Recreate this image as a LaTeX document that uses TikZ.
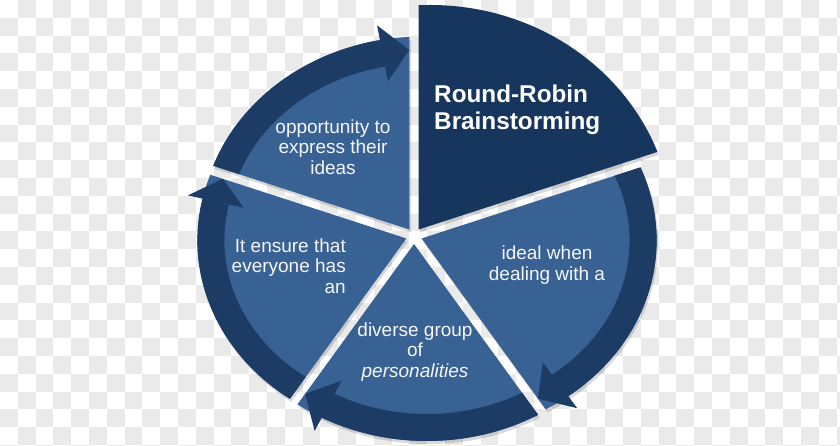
\documentclass[tikz,border=0pt]{standalone}
\usepackage{fontspec}
\setmainfont{Liberation Sans}
\usetikzlibrary{calc}
\definecolor{slicefill}{RGB}{56,97,148}
\definecolor{bandfill}{RGB}{28,59,101}
\definecolor{rrfill}{RGB}{23,54,94}
\definecolor{checkgray}{RGB}{234,234,234}
\definecolor{txtwhite}{RGB}{246,246,246}
\tikzset{
  txt/.style={text=txtwhite, inner sep=0pt, font=\fontsize{19}{20.5}\selectfont},
  rrtxt/.style={text=white, inner sep=0pt, font=\bfseries\fontsize{24.3}{27}\selectfont},
  shadowfill/.style={fill=black, opacity=0.15}
}
% #1 bisector, #2 lower edge, #3 upper edge, #4 tip t, #5 head base t, #6 tail t
\newcommand{\lightslice}[6]{%
  \begin{scope}[shift={(414,210)}, shift={(#1:8)}]
    \begin{scope}[shift={(1.5,-3)}]
      \clip (0,0) -- (#2:600) -- (#1:600) -- (#3:600) -- cycle;
      \fill[shadowfill] (13,-2) ellipse [x radius=222, y radius=195];
    \end{scope}
    \clip (0,0) -- (#2:600) -- (#1:600) -- (#3:600) -- cycle;
    \fill[slicefill] (13,-2) ellipse [x radius=222, y radius=195];
    \fill[bandfill] ($(13,-2)+(#5:222 and 195)$)
        arc[start angle=#5, end angle=#6, x radius=222, y radius=195]
        -- ($(13,-2)+(#6:195 and 168)$)
        arc[start angle=#6, end angle=#5, x radius=195, y radius=168] -- cycle;
    \fill[bandfill] ($(13,-2)+(#5:237 and 210)$) -- ($(13,-2)+(#4:209 and 182)$)
        -- ($(13,-2)+(#5:180 and 153)$) -- cycle;
  \end{scope}}
\begin{document}
\begin{tikzpicture}[x=1pt,y=1pt]
\useasboundingbox (0,0) rectangle (840,446);
\fill[white] (0,0) rectangle (840,446);
\foreach \i in {0,...,47}{\foreach \j in {0,...,25}{%
  \pgfmathtruncatemacro\chk{mod(\i+\j,2)}%
  \ifnum\chk=1 \fill[checkgray] (\i*17.8,446-\j*17.8) rectangle ++(17.8,-17.8);\fi}}
% light slices with arrow bands
\lightslice{126}{90}{162}{93.6}{101}{166}
\lightslice{198}{162}{234}{160.2}{167.6}{240}
\lightslice{270}{234}{306}{234.3}{241.7}{305}
\lightslice{342}{306}{378}{299.6}{307}{388}
% Round-Robin slice
\begin{scope}
  \begin{scope}[shift={(1.5,-3)}]
    \clip (418.7,216.5) -- ++(18:600) -- ++(144:300) -- (418.7,700) -- cycle;
    \fill[shadowfill] (430,214) ellipse [x radius=243, y radius=227];
  \end{scope}
  \clip (418.7,216.5) -- ++(18:600) -- ++(144:300) -- (418.7,700) -- cycle;
  \fill[rrfill] (430,214) ellipse [x radius=243, y radius=227];
\end{scope}
% texts
\node[rrtxt, align=left, anchor=west] (rr) at (434,336) {Round-Robin\\Brainstorming};
\node[txt, align=center] (t1) at (333,299) {opportunity to\\express their\\ideas};
\node[txt, align=right, anchor=east] (t2) at (346,180) {It ensure that\\everyone has\\an};
\node[txt, align=center] (t3) at (415,94) {diverse group\\of\\\textit{personalities}};
\node[txt, align=center] (t4) at (547,181) {ideal when\\dealing with a};
\end{tikzpicture}
\end{document}
